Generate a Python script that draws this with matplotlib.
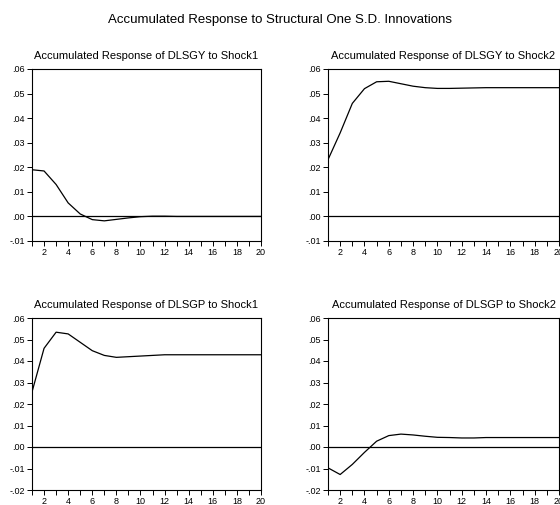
import matplotlib
matplotlib.use("Agg")
import matplotlib.pyplot as plt
from matplotlib.ticker import FuncFormatter, MultipleLocator

plt.rcParams['font.family'] = ['Liberation Sans', 'DejaVu Sans']

periods = list(range(1, 21))
dlsgy_shock1 = [0.0190, 0.0185, 0.0130, 0.0055, 0.0010, -0.0013, -0.0018, -0.0012,
                -0.0006, -0.0001, 0.0001, 0.0001, 0.0000, 0.0000, 0.0000, 0.0000,
                0.0000, 0.0000, 0.0000, 0.0000]
dlsgy_shock2 = [0.0231, 0.0340, 0.0460, 0.0520, 0.0548, 0.0550, 0.0540, 0.0530,
                0.0524, 0.0521, 0.0521, 0.0522, 0.0523, 0.0524, 0.0524, 0.0524,
                0.0524, 0.0524, 0.0524, 0.0524]
dlsgp_shock1 = [0.0256, 0.0459, 0.0534, 0.0526, 0.0487, 0.0448, 0.0426, 0.0417,
                0.0420, 0.0423, 0.0426, 0.0429, 0.0429, 0.0429, 0.0429, 0.0429,
                0.0429, 0.0429, 0.0429, 0.0429]
dlsgp_shock2 = [-0.0097, -0.0128, -0.0081, -0.0025, 0.0027, 0.0053, 0.0060, 0.0056,
                0.0050, 0.0045, 0.0044, 0.0042, 0.0042, 0.0044, 0.0044, 0.0044,
                0.0044, 0.0044, 0.0044, 0.0044]

main_title = "Accumulated Response to Structural One S.D. Innovations"
titles = ["Accumulated Response of DLSGY to Shock1",
          "Accumulated Response of DLSGY to Shock2",
          "Accumulated Response of DLSGP to Shock1",
          "Accumulated Response of DLSGP to Shock2"]
series = [dlsgy_shock1, dlsgy_shock2, dlsgp_shock1, dlsgp_shock2]
ylims = [(-0.01, 0.06), (-0.01, 0.06), (-0.02, 0.06), (-0.02, 0.06)]

W, H = 560, 505
fig = plt.figure(figsize=(W / 100, H / 100), dpi=100)

def box(l, t, r, b):
    return [l / W, 1 - b / H, (r - l) / W, (b - t) / H]

rects = [box(32, 69, 261, 241), box(328, 69, 559, 241),
         box(32, 318, 261, 490), box(328, 318, 559, 490)]

def fmt(v, pos):
    s = f"{v:.2f}"
    if s.startswith("0"):
        s = s[1:]
    elif s.startswith("-0"):
        s = "-" + s[2:]
    if s == "-.00":
        s = ".00"
    return s

for rect, ys, title, yl in zip(rects, series, titles, ylims):
    ax = fig.add_axes(rect)
    ax.plot(periods, ys, color='black', lw=0.9)
    ax.axhline(0, color='black', lw=0.9)
    ax.set_xlim(1, 20)
    ax.set_ylim(*yl)
    ax.xaxis.set_major_locator(MultipleLocator(2))
    ax.xaxis.set_minor_locator(MultipleLocator(1))
    ax.yaxis.set_major_locator(MultipleLocator(0.01))
    ax.yaxis.set_major_formatter(FuncFormatter(fmt))
    ax.tick_params(axis='both', which='both', direction='out', length=3.5,
                   width=0.7, labelsize=6.5, pad=1.5, color='black')
    ax.tick_params(axis='x', which='minor', length=3.5)
    for sp in ax.spines.values():
        sp.set_linewidth(0.8)
    ax.set_title(title, fontsize=8, pad=7)

fig.text(0.5, 1 - 20 / H, main_title, ha='center', va='center', fontsize=9.5)

fig.savefig("out.png", dpi=100)
